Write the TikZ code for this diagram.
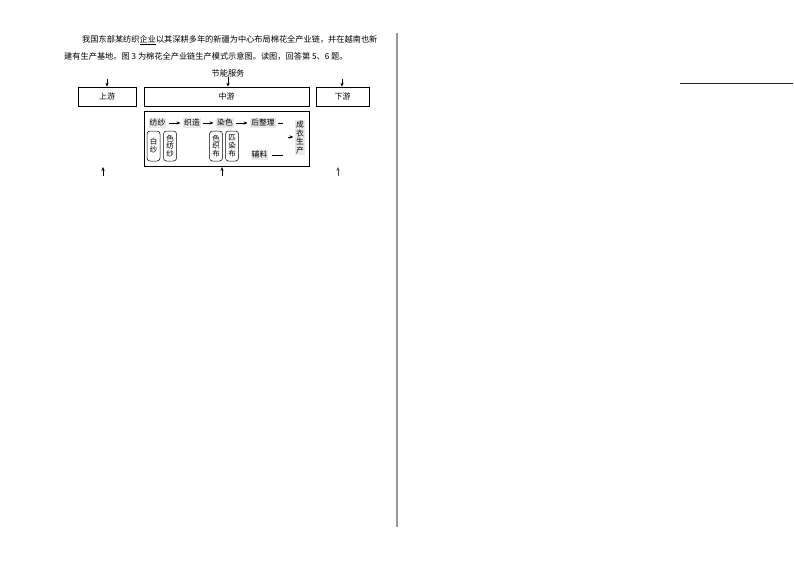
\documentclass[tikz,border=0pt]{standalone}
\usepackage{fontspec}
\setmainfont{Noto Sans CJK SC}
\usetikzlibrary{arrows.meta}
\begin{document}
\begin{tikzpicture}[x=1pt,y=-1pt,
  txt/.style={inner sep=0pt, font=\fontsize{8.2}{9}\selectfont},
  box/.style={draw, line width=0.6pt, minimum height=19pt, inner sep=0pt, font=\fontsize{8}{9}\selectfont},
  hl/.style={fill=black!9, inner sep=1pt, font=\fontsize{7.8}{8}\selectfont},
  rbox/.style={draw, line width=0.5pt, rounded corners=3pt, minimum width=13pt, minimum height=30pt, inner sep=0.5pt, align=center, font=\fontsize{7.5}{7.8}\selectfont},
  arr/.style={-{Stealth[length=4pt,width=3.2pt]}, line width=0.6pt},
  ln/.style={line width=0.6pt}]
\useasboundingbox (0,0) rectangle (794,560);
% paragraph
\node[txt, anchor=west] (p1) at (82,40) {我国东部某纺织\underline{企业}以其深耕多年的新疆为中心布局棉花全产业链，并在越南也新};
\node[txt, anchor=west] (p2) at (64,56) {建有生产基地。图 3 为棉花全产业链生产模式示意图。读图，回答第 5、6 题。};
% top label
\node[txt] (fw) at (228,73) {节能服务};
% main boxes
\node[box, minimum width=58pt] (up) at (107,96.5) {上游};
\node[box, minimum width=165pt] (mid) at (226.5,96.5) {中游};
\node[box, minimum width=53pt] (down) at (342.5,96.5) {下游};
\node[draw, line width=0.6pt, minimum width=165pt, minimum height=55pt, inner sep=0pt] (inner) at (226.5,138.5) {};
% down arrows
\coordinate (d1) at (107,79);
\coordinate (d3) at (342,79);
\draw[arr] (d1) -- (up.north);
\draw[arr] (fw.south) -- (fw.south |- mid.north);
\draw[arr] (d3) -- (d3 |- down.north);
% row 1
\node[hl] (fs) at (157.5,123) {纺纱};
\node[hl] (zz) at (192,123) {织造};
\node[hl] (rs) at (225,123) {染色};
\node[hl] (hz) at (263,123) {后整理};
\draw[arr] ([xshift=2pt]fs.east) -- ([xshift=-2.5pt]zz.west);
\draw[arr] ([xshift=2pt]zz.east) -- ([xshift=-2.5pt]rs.west);
\draw[arr] ([xshift=2pt]rs.east) -- ([xshift=-2.5pt]hz.west);
\coordinate (hze) at (283,123);
\draw[ln] ([xshift=2pt]hz.east) -- (hze);
% auxiliary
\node[hl] (fl) at (259.5,155) {辅料};
\coordinate (fle) at (283,155);
\draw[ln] ([xshift=3pt]fl.east) -- (fle);
% garment production
\node[hl, align=center, font=\fontsize{7.8}{8.8}\selectfont] (cy) at (300,137.5) {成\\衣\\生\\产};
\coordinate (ca) at (288,137);
\draw[arr] (ca) -- ([xshift=-1.5pt]cy.west |- ca);
% rounded boxes
\node[rbox] (bs) at (153.5,146) {白\\纱};
\node[rbox] (sfs) at (170,146) {色\\纺\\纱};
\node[rbox] (szb) at (216,146) {色\\织\\布};
\node[rbox] (prb) at (232,146) {匹\\染\\布};
% up arrows
\coordinate (u1a) at (103,176); \coordinate (u1b) at (103,167);
\coordinate (u2a) at (222,176); \coordinate (u2b) at (222,167);
\coordinate (u3a) at (338,176); \coordinate (u3b) at (338,167);
\draw[arr] (u1a) -- (u1b);
\draw[arr] (u2a) -- (u2b);
\draw[arr, black!70] (u3a) -- (u3b);
% divider and right line
\coordinate (v1) at (397,33); \coordinate (v2) at (397,527);
\draw[line width=1.6pt, black!40] (v1) -- (v2);
\coordinate (h1) at (680,83); \coordinate (h2) at (793,83);
\draw[line width=0.7pt, black!85] (h1) -- (h2);
\end{tikzpicture}
\end{document}
